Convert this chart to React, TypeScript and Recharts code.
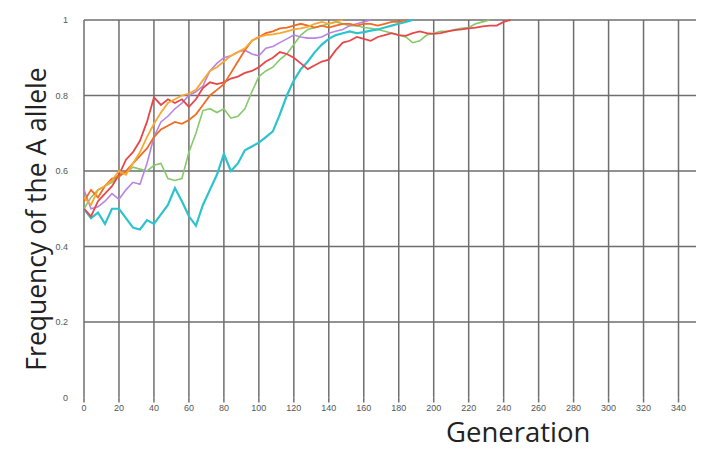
import React from 'react';
import { LineChart, Line, XAxis, YAxis, CartesianGrid } from 'recharts';

const generations = [0, 4, 8, 12, 16, 20, 24, 28, 32, 36, 40, 44, 48, 52, 56, 60, 64, 68, 72, 76, 80, 84, 88, 92, 96, 100, 104, 108, 112, 116, 120, 124, 128, 132, 136, 140, 144, 148, 152, 156, 160, 164, 168, 172, 176, 180, 184, 188, 192, 196, 200, 204, 208, 212, 216, 220, 224, 228, 232, 236, 240, 244];

const cyanRun = [0.5, 0.475, 0.49, 0.46, 0.5, 0.5, 0.475, 0.45, 0.445, 0.47, 0.46, 0.485, 0.51, 0.555, 0.52, 0.48, 0.455, 0.51, 0.55, 0.59, 0.645, 0.6, 0.62, 0.655, 0.665, 0.675, 0.69, 0.705, 0.75, 0.8, 0.84, 0.87, 0.89, 0.915, 0.935, 0.95, 0.96, 0.965, 0.97, 0.965, 0.968, 0.972, 0.975, 0.98, 0.985, 0.99, 0.995, 1.0];

const greenRun = [0.5, 0.53, 0.55, 0.56, 0.57, 0.59, 0.595, 0.61, 0.605, 0.6, 0.615, 0.62, 0.58, 0.575, 0.58, 0.65, 0.7, 0.76, 0.765, 0.755, 0.765, 0.74, 0.745, 0.765, 0.81, 0.85, 0.865, 0.875, 0.895, 0.91, 0.935, 0.96, 0.975, 0.98, 0.985, 0.99, 0.995, 0.99, 0.985, 0.985, 0.98, 0.978, 0.975, 0.97, 0.965, 0.96, 0.955, 0.94, 0.945, 0.96, 0.965, 0.97, 0.97, 0.975, 0.978, 0.98, 0.99, 0.995, 1.0];

const redRun = [0.5, 0.48, 0.52, 0.54, 0.56, 0.59, 0.63, 0.65, 0.68, 0.73, 0.795, 0.775, 0.79, 0.78, 0.79, 0.77, 0.79, 0.82, 0.835, 0.83, 0.835, 0.845, 0.85, 0.86, 0.865, 0.875, 0.89, 0.9, 0.915, 0.91, 0.9, 0.885, 0.87, 0.88, 0.89, 0.895, 0.92, 0.94, 0.945, 0.955, 0.95, 0.945, 0.955, 0.96, 0.965, 0.96, 0.958, 0.965, 0.97, 0.965, 0.963, 0.965, 0.97, 0.973, 0.975, 0.978, 0.98, 0.983, 0.985, 0.985, 0.995, 1.0];

const orangeRun = [0.52, 0.55, 0.53, 0.56, 0.58, 0.585, 0.6, 0.62, 0.64, 0.66, 0.69, 0.71, 0.72, 0.73, 0.725, 0.735, 0.75, 0.775, 0.8, 0.815, 0.83, 0.86, 0.89, 0.92, 0.945, 0.955, 0.965, 0.97, 0.978, 0.98, 0.985, 0.99, 0.985, 0.98, 0.985, 0.98, 0.985, 0.99, 0.99, 0.985, 0.99, 0.99, 0.985, 0.99, 0.995, 0.995, 1.0];

const yellowRun = [0.53, 0.51, 0.55, 0.56, 0.575, 0.6, 0.59, 0.62, 0.65, 0.69, 0.725, 0.755, 0.78, 0.79, 0.8, 0.805, 0.815, 0.84, 0.865, 0.875, 0.89, 0.905, 0.915, 0.925, 0.945, 0.955, 0.96, 0.962, 0.965, 0.97, 0.975, 0.978, 0.982, 0.99, 0.995, 0.99, 0.995, 1.0];

const purpleRun = [0.55, 0.5, 0.505, 0.52, 0.54, 0.525, 0.55, 0.57, 0.565, 0.62, 0.69, 0.73, 0.745, 0.765, 0.78, 0.8, 0.81, 0.825, 0.865, 0.885, 0.9, 0.905, 0.915, 0.92, 0.91, 0.905, 0.925, 0.93, 0.94, 0.95, 0.96, 0.955, 0.952, 0.952, 0.955, 0.965, 0.97, 0.975, 0.985, 0.99, 0.995, 1.0];

const xTicks = [0, 20, 40, 60, 80, 100, 120, 140, 160, 180, 200, 220, 240, 260, 280, 300, 320, 340];
const yTicks = [0, 0.2, 0.4, 0.6, 0.8, 1];
const yGrid = [0.2, 0.4, 0.6, 0.8, 1];

const series = [
  { key: 'green', values: greenRun, color: '#86c96a', width: 1.6 },
  { key: 'cyan', values: cyanRun, color: '#2cc3cd', width: 2.2 },
  { key: 'purple', values: purpleRun, color: '#b884e0', width: 1.6 },
  { key: 'red', values: redRun, color: '#e8474a', width: 1.8 },
  { key: 'orange', values: orangeRun, color: '#f26b22', width: 1.8 },
  { key: 'yellow', values: yellowRun, color: '#f7a832', width: 1.8 },
];

const data = generations.map((g, i) => {
  const row: Record<string, number | null> = { g };
  series.forEach((s) => {
    row[s.key] = i < s.values.length ? s.values[i] : null;
  });
  return row;
});

const fmtY = (v: number) => (v === 0 ? '0' : v === 1 ? '1' : v.toFixed(1));

export default function App() {
  return (
    <div style={{ position: 'absolute', left: 0, top: 0, width: 706, height: 452, background: '#fff' }}>
      <LineChart
        width={706}
        height={452}
        data={data}
        margin={{ top: 20, right: 10, bottom: 34.5, left: 24 }}
      >
        <CartesianGrid
          stroke="#6e6e6e"
          strokeWidth={1.5}
          horizontalValues={yGrid}
          verticalValues={xTicks}
        />
        <XAxis
          dataKey="g"
          type="number"
          domain={[0, 350]}
          ticks={xTicks}
          interval={0}
          axisLine={false}
          tickLine={{ stroke: '#6e6e6e', strokeWidth: 1.5 }}
          tickSize={5}
          height={20}
          tick={{ fontSize: 9, fill: '#555', fontFamily: 'Liberation Sans Narrow, Liberation Sans, sans-serif' }}
        />
        <YAxis
          type="number"
          domain={[0, 1]}
          ticks={yTicks}
          interval={0}
          axisLine={false}
          tickLine={false}
          width={60}
          tickMargin={10}
          tickFormatter={fmtY}
          tick={{ fontSize: 9, fill: '#555', fontFamily: 'Liberation Sans, sans-serif' }}
        />
        {series.map((s) => (
          <Line
            key={s.key}
            dataKey={s.key}
            stroke={s.color}
            strokeWidth={s.width}
            dot={false}
            activeDot={false}
            isAnimationActive={false}
            connectNulls={false}
            type="linear"
          />
        ))}
      </LineChart>
      <div
        style={{
          position: 'absolute',
          left: 446,
          top: 415,
          fontFamily: 'Open Sans, sans-serif',
          fontSize: 27.5,
          color: '#222',
          lineHeight: '34px',
          whiteSpace: 'nowrap',
        }}
      >
        Generation
      </div>
      <div
        style={{
          position: 'absolute',
          left: 36,
          top: 219,
          transform: 'translate(-50%, -50%) rotate(-90deg)',
          fontFamily: 'Open Sans, sans-serif',
          fontSize: 26.5,
          color: '#222',
          lineHeight: '32px',
          whiteSpace: 'nowrap',
        }}
      >
        Frequency of the A allele
      </div>
    </div>
  );
}
